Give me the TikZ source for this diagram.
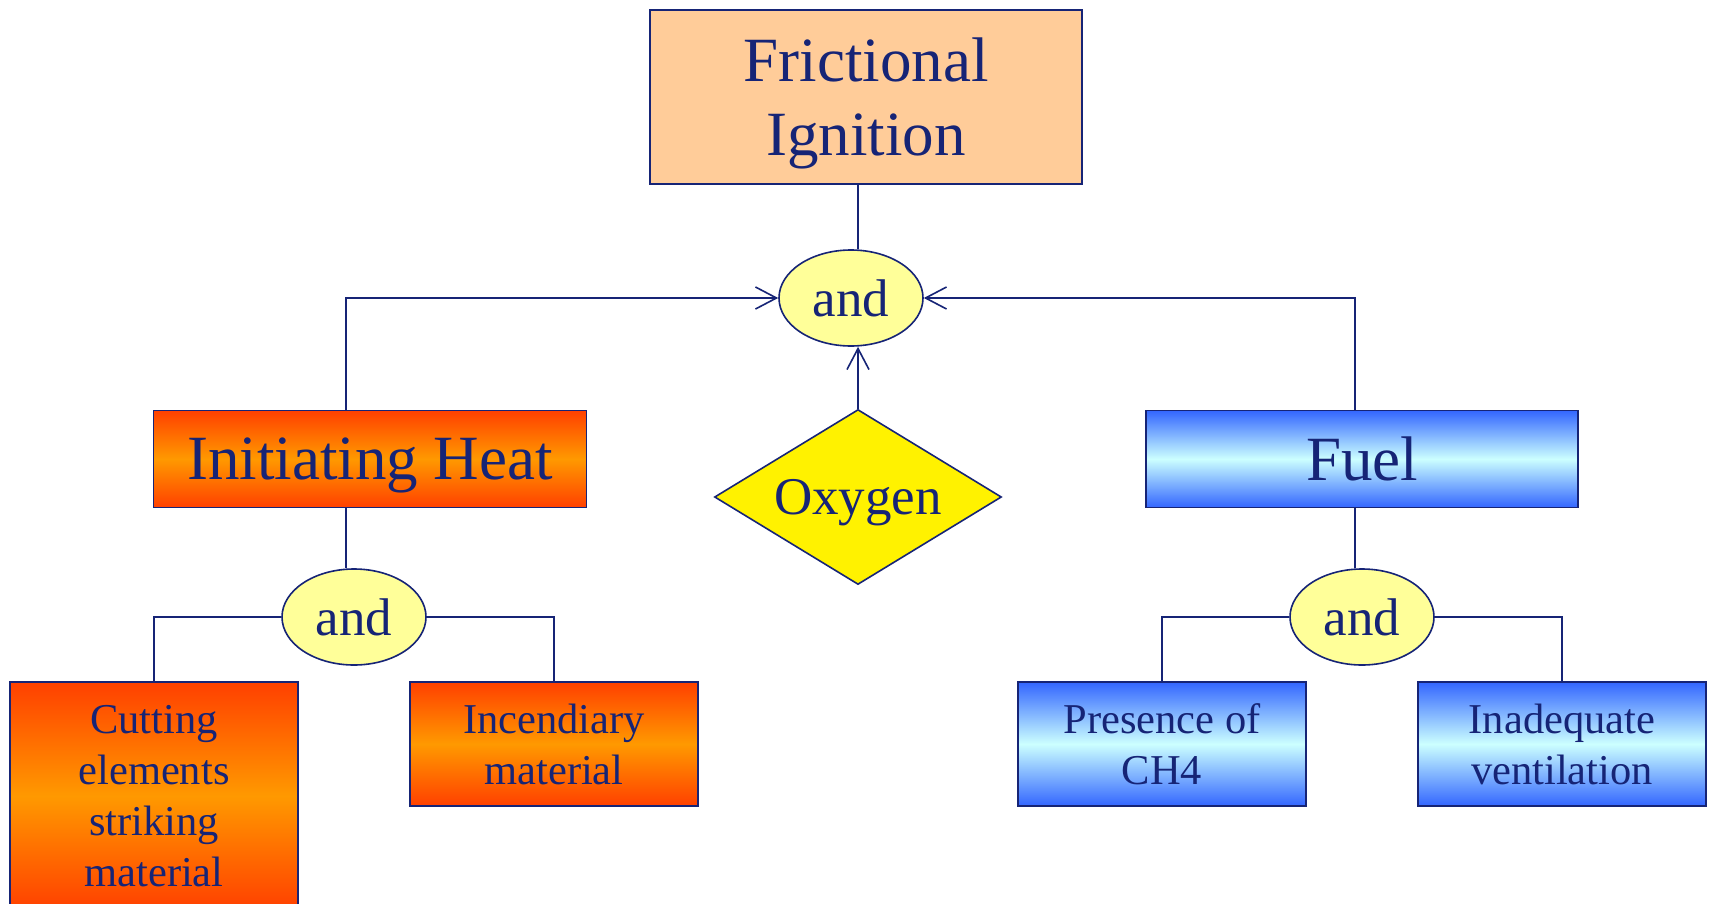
\documentclass[tikz,border=0pt]{standalone}
\usepackage{fontspec}
\setmainfont{Liberation Serif}
\usetikzlibrary{shapes.geometric,arrows.meta}

\definecolor{navy}{RGB}{22,36,118}
\definecolor{peach}{RGB}{255,204,153}
\definecolor{hotred}{RGB}{255,64,0}
\definecolor{hotorange}{RGB}{255,153,0}
\definecolor{coolblue}{RGB}{51,102,255}
\definecolor{coolcyan}{RGB}{204,255,255}
\definecolor{gateyellow}{RGB}{255,255,153}

\begin{document}
\begin{tikzpicture}[
            x=1pt, y=-1pt,
            every node/.style={draw=navy, text=navy, align=center, inner sep=0pt, line width=1.6pt},
            box/.style={rectangle},
            hot/.style={box, top color=hotred, bottom color=hotred, middle color=hotorange},
            cool/.style={box, top color=coolblue, bottom color=coolblue, middle color=coolcyan},
            gate/.style={ellipse, fill=gateyellow, minimum width=144pt, minimum height=96pt, font=\fontsize{53}{60}\selectfont},
            big/.style={font=\fontsize{63}{74}\selectfont, text depth=0pt},
            small/.style={font=\fontsize{42.5}{51}\selectfont},
            link/.style={draw=navy, line width=1.6pt},
            arr/.style={link, -{Straight Barb[length=21pt,width=22pt]}}
        ]
        \useasboundingbox[fill=white] (0,0) rectangle (1710,904);
        \clip (0,0) rectangle (1710,904);

        \node[box, fill=peach, big, minimum width=432pt, minimum height=174pt] (top) at (866,97) {Frictional\\Ignition};
        \node[gate] (andtop) at (851,298) {and};

        \node[hot, big, minimum width=433pt, minimum height=97pt] (heat) at (370,459) {Initiating Heat};
        \node[diamond, aspect=1.64, fill=yellow, minimum width=287pt, minimum height=175pt,
              font=\fontsize{53}{60}\selectfont, text depth=0pt] (oxy) at (858,497) {Oxygen};
        \node[cool, big, minimum width=432pt, minimum height=97pt] (fuel) at (1362,459) {Fuel};

        \node[gate] (andL) at (354,617) {and};
        \node[gate] (andR) at (1362,617) {and};

        \node[hot, small, minimum width=288pt, minimum height=228pt] (cut) at (154,796) {Cutting\\elements\\striking\\material};
        \node[hot, small, minimum width=288pt, minimum height=124pt] (inc) at (554,744) {Incendiary\\material};
        \node[cool, small, minimum width=288pt, minimum height=124pt] (pres) at (1162,744) {Presence of\\CH4};
        \node[cool, small, minimum width=288pt, minimum height=124pt] (inad) at (1562,744) {Inadequate\\ventilation};

        \draw[link] (top.south -| oxy.north) -- (oxy.north |- andtop.north);
        \draw[arr] (oxy.north) -- (oxy.north |- andtop.south);
        \draw[arr] ([xshift=-24pt]heat.north) |- (andtop.west);
        \draw[arr] ([xshift=-7pt]fuel.north) |- (andtop.east);

        \draw[link] ([xshift=-24pt]heat.south) -- ([xshift=-24pt]heat.south |- andL.north);
        \draw[link] ([xshift=-7pt]fuel.south) -- ([xshift=-7pt]fuel.south |- andR.north);

        \draw[link] (andL.west) -| (cut.north);
        \draw[link] (andL.east) -| (inc.north);
        \draw[link] (andR.west) -| (pres.north);
        \draw[link] (andR.east) -| (inad.north);
    \end{tikzpicture}
\end{document}
